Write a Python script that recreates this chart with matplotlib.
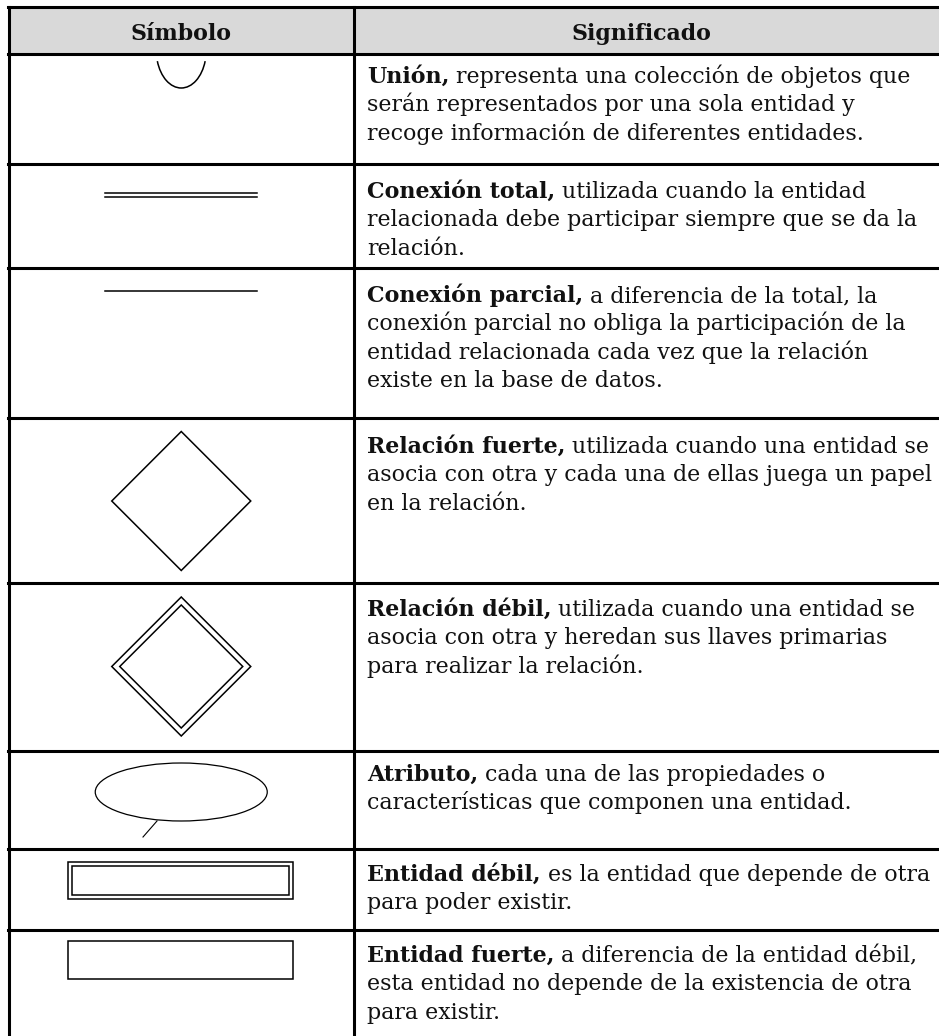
"""Tabla de simbolos del modelo entidad-relacion."""
import matplotlib

matplotlib.use("Agg")
import matplotlib.pyplot as plt
from matplotlib.patches import Arc, Ellipse, Polygon, Rectangle

FONT = "DejaVu Serif"
FONT_SIZE = 15.9
TEXT_COLOR = "#111111"
GRID_WIDTH = 2.2
SYMBOL_WIDTH = 1.1

headers = ["Símbolo", "Significado"]
symbols = [
    "union", "conexion_total", "conexion_parcial", "relacion_fuerte",
    "relacion_debil", "atributo", "entidad_debil", "entidad_fuerte",
]
terms = [
    "Unión,", "Conexión total,", "Conexión parcial,", "Relación fuerte,",
    "Relación débil,", "Atributo,", "Entidad débil,", "Entidad fuerte,",
]
descriptions = [
    ["representa una colección de objetos que",
     "serán representados por una sola entidad y",
     "recoge información de diferentes entidades."],
    ["utilizada cuando la entidad",
     "relacionada debe participar siempre que se da la",
     "relación."],
    ["a diferencia de la total, la",
     "conexión parcial no obliga la participación de la",
     "entidad relacionada cada vez que la relación",
     "existe en la base de datos."],
    ["utilizada cuando una entidad se",
     "asocia con otra y cada una de ellas juega un papel",
     "en la relación."],
    ["utilizada cuando una entidad se",
     "asocia con otra y heredan sus llaves primarias",
     "para realizar la relación."],
    ["cada una de las propiedades o",
     "características que componen una entidad."],
    ["es la entidad que depende de otra",
     "para poder existir."],
    ["a diferencia de la entidad débil,",
     "esta entidad no depende de la existencia de otra",
     "para existir."],
]

# layout in pixels (figure is 939 x 1036 at 100 dpi)
W, H = 939, 1036
row_edges = [7, 54, 164, 268, 418, 583, 751, 849, 930, 1040]
col_edges = [9, 353.5, 944]
first_baselines = [83, 198, 302, 453, 616, 781, 881, 962]
TEXT_X = 367
LINE_STEP = 28.4

fig = plt.figure(figsize=(W / 100, H / 100), dpi=100)
ax = fig.add_axes([0, 0, 1, 1])
ax.set_xlim(0, W)
ax.set_ylim(H, 0)
ax.axis("off")

# header background
ax.add_patch(Rectangle((col_edges[0], row_edges[0]), col_edges[-1] - col_edges[0],
                       row_edges[1] - row_edges[0], facecolor="#d9d9d9", edgecolor="none"))

# grid
for y in row_edges:
    ax.plot([col_edges[0] - 1, col_edges[-1]], [y, y], color="black", lw=GRID_WIDTH,
            solid_capstyle="projecting")
for x in col_edges:
    ax.plot([x, x], [row_edges[0], row_edges[-1]], color="black", lw=GRID_WIDTH,
            solid_capstyle="projecting")

# headers
for i, label in enumerate(headers):
    cx = (col_edges[i] + min(col_edges[i + 1], W - 10)) / 2
    ax.text(cx, 40, label, family=FONT, size=FONT_SIZE, weight="bold",
            ha="center", va="baseline", color=TEXT_COLOR)

fig.canvas.draw()
renderer = fig.canvas.get_renderer()


def text_width(s, **kw):
    t = ax.text(0, 0, s, family=FONT, size=FONT_SIZE, **kw)
    w = t.get_window_extent(renderer).width
    t.remove()
    return w


space_w = text_width("x x") - text_width("xx")

# descriptions
for r, (term, lines) in enumerate(zip(terms, descriptions)):
    y = first_baselines[r]
    ax.text(TEXT_X, y, term, family=FONT, size=FONT_SIZE, weight="bold",
            va="baseline", color=TEXT_COLOR)
    x_rest = TEXT_X + text_width(term, weight="bold") + space_w
    ax.text(x_rest, y, lines[0], family=FONT, size=FONT_SIZE,
            va="baseline", color=TEXT_COLOR)
    for k, line in enumerate(lines[1:], start=1):
        ax.text(TEXT_X, y + k * LINE_STEP, line, family=FONT, size=FONT_SIZE,
                va="baseline", color=TEXT_COLOR)


def diamond(cx, cy, half):
    return Polygon([(cx, cy - half), (cx + half, cy), (cx, cy + half), (cx - half, cy)],
                   closed=True, fill=False, edgecolor="black", lw=SYMBOL_WIDTH)


# symbols, centred in the first column
cx = (col_edges[0] + col_edges[1]) / 2
for r, kind in enumerate(symbols):
    if kind == "union":
        ax.add_patch(Arc((cx, 50), 50, 76, theta1=25, theta2=155,
                         edgecolor="black", lw=SYMBOL_WIDTH))
    elif kind == "conexion_total":
        for y in (193, 196.5):
            ax.plot([105, 257], [y, y], color="black", lw=1.1)
    elif kind == "conexion_parcial":
        ax.plot([105, 257], [291, 291], color="black", lw=SYMBOL_WIDTH)
    elif kind == "relacion_fuerte":
        ax.add_patch(diamond(cx, 501, 69.5))
    elif kind == "relacion_debil":
        ax.add_patch(diamond(cx, 666.5, 69.5))
        ax.add_patch(diamond(cx, 666.5, 61.5))
    elif kind == "atributo":
        ax.add_patch(Ellipse((cx, 792), 172, 58, fill=False, edgecolor="black", lw=0.9))
        ax.plot([157, 143], [821, 837], color="black", lw=0.8)
    elif kind == "entidad_debil":
        ax.add_patch(Rectangle((68, 862), 225, 37, fill=False, edgecolor="black", lw=SYMBOL_WIDTH))
        ax.add_patch(Rectangle((72, 866), 217, 29, fill=False, edgecolor="black", lw=SYMBOL_WIDTH))
    elif kind == "entidad_fuerte":
        ax.add_patch(Rectangle((68, 941), 225, 38, fill=False, edgecolor="black", lw=SYMBOL_WIDTH))

fig.savefig("out.png", dpi=100, facecolor="white")
